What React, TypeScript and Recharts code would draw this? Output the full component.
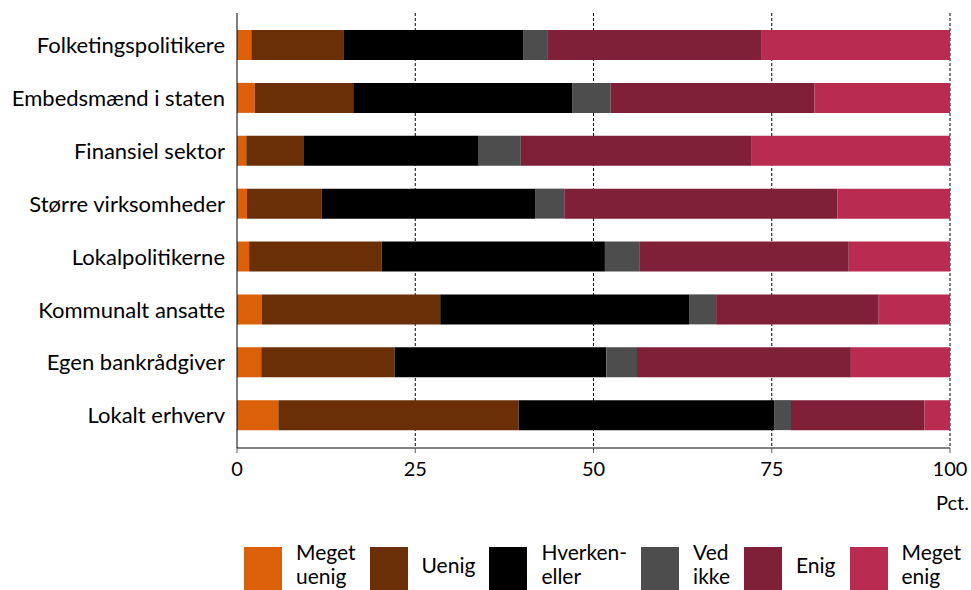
import React from 'react';
import { BarChart, Bar, XAxis, YAxis, CartesianGrid, Label } from 'recharts';

const categories = [
  'Folketingspolitikere',
  'Embedsmænd i staten',
  'Finansiel sektor',
  'Større virksomheder',
  'Lokalpolitikerne',
  'Kommunalt ansatte',
  'Egen bankrådgiver',
  'Lokalt erhverv',
];

const megetUenig = [2.0, 2.5, 1.3, 1.4, 1.7, 3.5, 3.4, 5.8];
const uenig = [13.0, 13.8, 8.0, 10.5, 18.6, 25.0, 18.7, 33.7];
const hverkenEller = [25.2, 30.7, 24.6, 29.9, 31.3, 34.9, 29.7, 35.9];
const vedIkke = [3.3, 5.4, 5.9, 4.1, 4.9, 3.8, 4.3, 2.3];
const enig = [30.0, 28.6, 32.3, 38.3, 29.3, 22.8, 30.0, 18.7];
const megetEnig = [26.5, 19.0, 27.9, 15.8, 14.2, 10.0, 13.9, 3.6];

const xTicks = [0, 25, 50, 75, 100];
const gridValues = [25, 50, 75, 100];

const series = [
  { key: 'megetUenig', name: 'Meget uenig', lines: ['Meget', 'uenig'], values: megetUenig, color: '#DC600A' },
  { key: 'uenig', name: 'Uenig', lines: ['Uenig'], values: uenig, color: '#6B2F07' },
  { key: 'hverkenEller', name: 'Hverken-eller', lines: ['Hverken-', 'eller'], values: hverkenEller, color: '#000000' },
  { key: 'vedIkke', name: 'Ved ikke', lines: ['Ved', 'ikke'], values: vedIkke, color: '#4D4D4D' },
  { key: 'enig', name: 'Enig', lines: ['Enig'], values: enig, color: '#801F38' },
  { key: 'megetEnig', name: 'Meget enig', lines: ['Meget', 'enig'], values: megetEnig, color: '#B92B51' },
];

const data = categories.map((name, i) => {
  const row: Record<string, string | number> = { name };
  series.forEach((s) => {
    row[s.key] = s.values[i];
  });
  return row;
});

const FONT = 'Lato, "Noto Sans", sans-serif';

const PctLabel = (props: any) => {
  const vb = props.viewBox || { x: 0, y: 0, width: 0, height: 0 };
  return (
    <text x={vb.x + vb.width + 19} y={vb.y + 62} textAnchor="end" fill="#000" fontSize={20} fontFamily={FONT}>
      Pct.
    </text>
  );
};

const LegendBlock = () => (
  <div
    style={{
      position: 'absolute',
      left: 244,
      top: 540,
      display: 'flex',
      alignItems: 'flex-start',
      fontFamily: FONT,
      fontSize: 21,
      lineHeight: '24px',
      color: '#000',
      whiteSpace: 'nowrap',
    }}
  >
    {series.map((s) => (
      <div key={s.key} style={{ display: 'flex', alignItems: 'flex-start', marginRight: 14 }}>
        <div style={{ width: 38, height: 48, marginTop: 7, background: s.color }} />
        <div style={{ marginLeft: 14, marginTop: s.lines.length === 1 ? 13 : 0 }}>
          {s.lines.map((l) => (
            <div key={l}>{l}</div>
          ))}
        </div>
      </div>
    ))}
  </div>
);

export default function App() {
  return (
    <div style={{ position: 'absolute', left: 0, top: 0, width: 971, height: 590, background: '#fff', overflow: 'hidden' }}>
      <BarChart
        width={971}
        height={590}
        data={data}
        layout="vertical"
        margin={{ top: 13, right: 21, bottom: 102, left: 0 }}
        barSize={30}
      >
        <CartesianGrid horizontal={false} verticalValues={gridValues} stroke="#000" strokeDasharray="3 2" />
        <XAxis
          type="number"
          domain={[0, 100]}
          ticks={xTicks}
          interval={0}
          height={40}
          tickSize={5}
          tickMargin={9}
          axisLine={{ stroke: '#595959', strokeWidth: 1.5 }}
          tickLine={{ stroke: '#595959' }}
          tick={{ fill: '#000', fontSize: 20, fontFamily: FONT }}
        >
          <Label content={<PctLabel />} />
        </XAxis>
        <YAxis
          type="category"
          dataKey="name"
          width={237}
          padding={{ top: 6, bottom: 6 }}
          tickSize={0}
          tickMargin={12}
          axisLine={{ stroke: '#000' }}
          tickLine={false}
          tick={{ fill: '#000', fontSize: 22, fontFamily: FONT }}
        />
        {series.map((s) => (
          <Bar key={s.key} dataKey={s.key} name={s.name} stackId="a" fill={s.color} isAnimationActive={false} />
        ))}
      </BarChart>
      <LegendBlock />
    </div>
  );
}
